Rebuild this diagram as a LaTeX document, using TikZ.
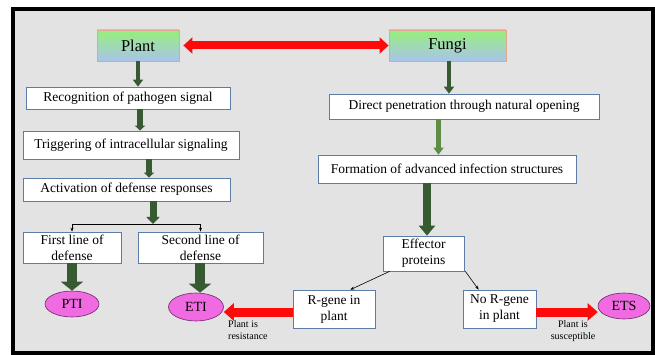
\documentclass[tikz,border=0pt]{standalone}
\usepackage{fontspec}
\setmainfont{Liberation Serif}
\usetikzlibrary{arrows.meta,shapes.geometric}
\definecolor{bgc}{HTML}{E3E3E3}
\definecolor{boxc}{HTML}{5A7CA6}
\definecolor{dkg}{HTML}{375A32}
\definecolor{ltg}{HTML}{5E8C45}
\definecolor{topg}{HTML}{96F07A}
\definecolor{botb}{HTML}{A9C3EC}
\definecolor{orb}{HTML}{E2A68E}
\definecolor{pinkf}{HTML}{F06AE2}
\definecolor{pinkd}{HTML}{6E2A66}
\definecolor{redf}{HTML}{FF0A0A}
\begin{document}
\begin{tikzpicture}[x=1pt,y=-1pt,
  box/.style={draw=boxc, fill=white, line width=0.7pt, inner sep=0pt, align=center,
    font=\rmfamily\fontsize{13.5}{16}\selectfont},
  topbox/.style={draw=orb, line width=0.8pt, top color=topg, bottom color=botb,
    inner sep=0pt, font=\rmfamily\fontsize{16.5}{18}\selectfont},
  oval/.style={ellipse, draw=pinkd, fill=pinkf, line width=0.6pt, inner sep=0pt,
    font=\rmfamily\fontsize{14}{15}\selectfont},
  garr/.style args={#1/#2/#3}{draw=dkg, line width=#1pt, -{Triangle[width=#2pt,length=#3pt]}},
  redarr/.style={draw=redf, line width=9pt, -{Triangle[width=17pt,length=10pt]}},
  thinarr/.style={draw=black, line width=0.6pt, -{Stealth[length=4pt,width=3pt]}},
  lab/.style={font=\rmfamily\fontsize{10}{12.5}\selectfont, inner sep=0pt}
]
\useasboundingbox (0,0) rectangle (655,355);
\draw[fill=bgc, line width=4pt] (13,9) rectangle (653,353);

% top boxes
\node[topbox, minimum width=82pt, minimum height=31pt] (plant) at (138,45.5) {Plant};
\node[topbox, minimum width=117pt, minimum height=31pt] (fungi) at (447.5,45.5) {Fungi};

% plant column
\node[box, minimum width=204pt, minimum height=22pt] (rec) at (128,98) {Recognition of pathogen signal};
\node[box, minimum width=216pt, minimum height=28pt] (trig) at (131,145) {Triggering of intracellular signaling};
\node[box, minimum width=207pt, minimum height=23pt] (act) at (126.5,189.5) {Activation of defense responses};
\node[box, minimum width=98pt, minimum height=31pt] (first) at (72,247.5) {First line of\\defense};
\node[box, minimum width=125pt, minimum height=31pt] (second) at (200.5,247.5) {Second line of\\defense};
\node[oval, minimum width=54pt, minimum height=26pt] (pti) at (72,304) {PTI};
\node[oval, minimum width=55pt, minimum height=28pt] (eti) at (196,307) {ETI};

% fungi column
\node[box, minimum width=270pt, minimum height=25pt] (dir) at (464,106.5) {Direct penetration through natural opening};
\node[box, minimum width=258pt, minimum height=28pt] (form) at (447,169) {Formation of advanced infection structures};
\node[box, minimum width=81pt, minimum height=35pt] (eff) at (423.5,253.5) {Effector\\proteins};
\node[box, minimum width=82pt, minimum height=38pt] (rg) at (334,309) {R-gene in\\plant};
\node[box, minimum width=73pt, minimum height=38pt] (norg) at (499.5,309) {No R-gene\\in plant};
\node[oval, minimum width=52pt, minimum height=26pt] (ets) at (624,306) {ETS};

% labels
\node[lab, align=left, anchor=north west] (labr) at (228,320) {Plant is\\resistance};
\node[lab, align=center, anchor=north] (labs) at (573,320) {Plant is\\susceptible};

% red double arrow
\draw[draw=redf, line width=8pt, {Triangle[width=16pt,length=9pt]}-{Triangle[width=16pt,length=9pt]}]
  ([xshift=4pt]plant.east) -- (fungi.west);

% green arrows, plant side
\draw[garr=4/10/7] (plant.south) -- (rec.north -| plant.south);
\draw[garr=5.5/10/5] (rec.south -| 140,0) -- (trig.north -| 140,0);
\draw[garr=5.5/10/5] (trig.south -| 149,0) -- (act.north -| 149,0);
\coordinate (br) at (153,224);
\draw[garr=7/13/7] (act.south -| br) -- (br);
\draw[thinarr] (br) -| (first.north);
\draw[thinarr] (br) -| (second.north);
\draw[garr=10/22/9] (first.south -| pti.north) -- (pti.north);
\draw[garr=10/22/9] (second.south -| 200,0) -- (eti.north -| 200,0);

% green arrows, fungi side
\draw[garr=4.5/10/7] (fungi.south -| 449,0) -- (dir.north -| 449,0);
\draw[garr=5/10/7, draw=ltg] (dir.south -| 438.5,0) -- (form.north -| 438.5,0);
\draw[garr=8/16/10] (form.south -| 427,0) -- (eff.north -| 427,0);

% effector split
\draw[thinarr] ([xshift=7pt]eff.south west) -- ([xshift=-25pt]rg.north east);
\draw[thinarr] ([xshift=1pt]eff.south east) -- ([xshift=16pt]norg.north west);

% red arrows
\draw[redarr] (rg.west |- 0,312) -- (eti.east |- 0,312);
\draw[redarr] (norg.east |- 0,312) -- (ets.west |- 0,312);
\end{tikzpicture}
\end{document}
